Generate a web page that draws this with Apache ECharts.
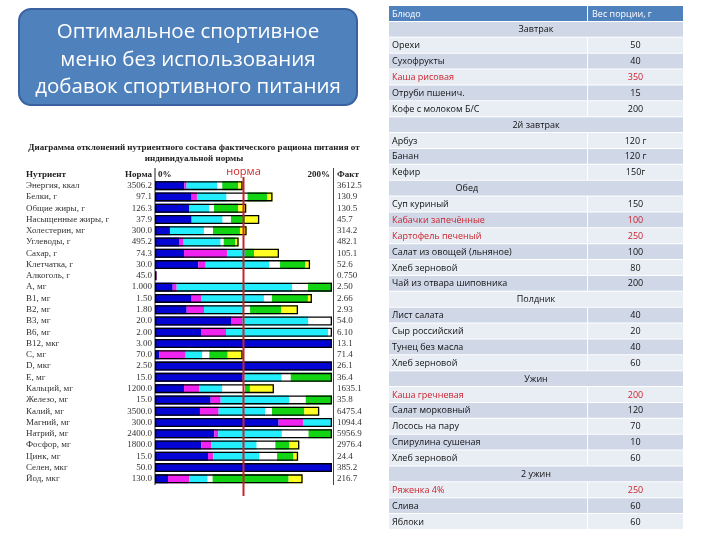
<!DOCTYPE html>
<html><head><meta charset="utf-8">
<script src="https://cdn.jsdelivr.net/npm/echarts@6/dist/echarts.min.js"></script>
<style>html,body{margin:0;padding:0;background:#fff}#c{width:720px;height:540px}</style>
</head><body><div id="c"></div>
<script>
// ---------- Nutrient deviation diagram data ----------
const nutrients = ['Энергия, ккал','Белки, г','Общие жиры, г','Насыщенные жиры, г','Холестерин, мг','Углеводы, г','Сахар, г','Клетчатка, г','Алкоголь, г','A, мг','B1, мг','B2, мг','B3, мг','B6, мг','B12, мкг','C, мг','D, мкг','E, мг','Кальций, мг','Железо, мг','Калий, мг','Магний, мг','Натрий, мг','Фосфор, мг','Цинк, мг','Селен, мкг','Йод, мкг'];
const norms = ['3506.2','97.1','126.3','37.9','300.0','495.2','74.3','30.0','45.0','1.000','1.50','1.80','20.0','2.00','3.00','70.0','2.50','15.0','1200.0','15.0','3500.0','300.0','2400.0','1800.0','15.0','50.0','130.0'];
const facts = ['3612.5','130.9','130.5','45.7','314.2','482.1','105.1','52.6','0.750','2.50','2.66','2.93','54.0','6.10','13.1','71.4','26.1','36.4','1635.1','35.8','6475.4','1094.4','5956.9','2976.4','24.4','385.2','216.7'];
// percent of norm contributed by each meal (bar capped at 200%)
const breakfast  = [33.1,41.4,38.8,41.4,16.9,27.1,32.8,49.0,0,20.0,41.4,35.8,85.9,52.0,200,4.9,200,99.1,32.8,62.9,50.8,139.7,67.0,52.4,59.9,200,14.7];
const breakfast2 = [2.6,6.0,0,0,0,5.3,48.6,8.3,1.7,4.5,11.3,19.6,12.8,28.2,0,29.8,0,1.9,16.9,11.3,21.1,27.5,4.5,10.9,6.0,0,23.7];
const lunch      = [34.7,33.5,22.2,35.0,38.4,41.8,20.3,71.9,0,130.7,70.4,44.1,74.6,115.6,0,18.8,0,42.2,26.4,77.6,52.4,32.8,71.9,51.6,52.0,0,21.1];
const snack      = [5.6,23.7,5.6,9.4,10.2,3.4,0,12.1,0,17.7,9.0,7.9,26.7,4.2,0,7.9,0,10.2,25.6,18.5,7.9,0,30.1,21.1,20.0,0,5.6];
const dinner     = [18.1,22.2,27.5,15.8,30.5,12.8,10.2,28.6,0,27.1,40.7,35.0,0,0,0,20.7,0,46.6,5.6,29.7,36.5,0,26.5,15.4,18.5,0,85.9];
const dinner2    = [4.9,6.0,9.0,16.2,7.5,4.1,28.2,5.3,0,0,4.5,19.2,0,0,0,16.9,0,0,27.1,0,16.9,0,0,11.7,5.3,0,15.8];

// ---------- Menu table data ----------
const tableHeader = ['Блюдо', 'Вес порции, г'];
const mealSections = ['Завтрак', '2й завтрак', 'Обед', 'Полдник', 'Ужин', '2 ужин'];
const dishesBreakfast = ['Орехи','Сухофрукты','Каша рисовая','Отруби пшенич.','Кофе с молоком Б/С'];
const weightsBreakfast = ['50','40','350','15','200'];
const dishesBreakfast2 = ['Арбуз','Банан','Кефир'];
const weightsBreakfast2 = ['120 г','120 г','150г'];
const dishesLunch = ['Суп куриный','Кабачки запечённые','Картофель печеный','Салат из овощей (льняное)','Хлеб зерновой','Чай из отвара шиповника'];
const weightsLunch = ['150','100','250','100','80','200'];
const dishesSnack = ['Лист салата','Сыр российский','Тунец без масла','Хлеб зерновой'];
const weightsSnack = ['40','20','40','60'];
const dishesDinner = ['Каша гречневая','Салат морковный','Лосось на пару','Спирулина сушеная','Хлеб зерновой'];
const weightsDinner = ['200','120','70','10','60'];
const dishesDinner2 = ['Ряженка 4%','Слива','Яблоки'];
const weightsDinner2 = ['250','60','60'];
const redDishes = ['Каша рисовая','Кабачки запечённые','Картофель печеный','Каша гречневая','Ряженка 4%'];

// ---------- build ----------
const mealData = [breakfast, breakfast2, lunch, snack, dinner, dinner2];
const mealColors = ['#0404d4','#f022f0','#22eeff','#ffffff','#12d412','#ffff22'];
const totals = nutrients.map((_, i) => mealData.reduce((s, a) => s + a[i], 0));

const sectionDishes = [dishesBreakfast, dishesBreakfast2, dishesLunch, dishesSnack, dishesDinner, dishesDinner2];
const sectionWeights = [weightsBreakfast, weightsBreakfast2, weightsLunch, weightsSnack, weightsDinner, weightsDinner2];
const tableRows = [{kind: 'header'}];
mealSections.forEach((s, k) => {
  tableRows.push({kind: 'section', text: s, k: k});
  sectionDishes[k].forEach((d, j) => tableRows.push({kind: 'dish', text: d, w: sectionWeights[k][j], red: redDishes.includes(d)}));
});
const colSplit = 0.677;
const sectionAnchor = [0.5, 0.5, 0.265, 0.5, 0.5, 0.5];

const serif = 'Liberation Serif';
const sans = 'Open Sans';
const chart = echarts.init(document.getElementById('c'));

const series = mealData.map((d, k) => ({
  type: 'bar', name: mealSections[k], stack: 'meals', data: d, barWidth: 9, barGap: '-100%',
  xAxisIndex: 0, yAxisIndex: 0, itemStyle: {color: mealColors[k]}, silent: true
}));
series.push({
  type: 'bar', data: totals, barWidth: 9, barGap: '-100%', xAxisIndex: 0, yAxisIndex: 0, z: 5, silent: true,
  itemStyle: {color: 'rgba(0,0,0,0)', borderColor: '#000', borderWidth: 1.3}
});
series.push({
  type: 'custom', coordinateSystem: 'cartesian2d', xAxisIndex: 1, yAxisIndex: 2, silent: true,
  data: tableRows.map((_, i) => [0, i]), encode: {x: 0, y: 1},
  renderItem: (params, api) => {
    const i = params.dataIndex;
    const row = tableRows[i];
    const c0 = api.coord([0, i]);
    const x0 = c0[0], yc = c0[1];
    const x1 = api.coord([1, i])[0];
    const xs = api.coord([colSplit, i])[0];
    const h = api.size([0, 1])[1];
    const top = yc - h / 2;
    const fill = row.kind === 'header' ? '#4f81bd' : (i % 2 === 1 ? '#d0d8e8' : '#e9edf4');
    const font = '9px "Open Sans"';
    const ch = [];
    const txt = (t, x, align, color) => ch.push({type: 'text', style: {text: t, x: x, y: yc, textAlign: align, textVerticalAlign: 'middle', fill: color, font: font}});
    if (row.kind === 'section') {
      ch.push({type: 'rect', shape: {x: x0, y: top, width: x1 - x0, height: h - 1}, style: {fill: fill}});
      txt(row.text, x0 + (x1 - x0) * sectionAnchor[row.k], 'center', '#111');
    } else {
      ch.push({type: 'rect', shape: {x: x0, y: top, width: xs - x0 - 1, height: h - 1}, style: {fill: fill}});
      ch.push({type: 'rect', shape: {x: xs, y: top, width: x1 - xs, height: h - 1}, style: {fill: fill}});
      if (row.kind === 'header') {
        txt(tableHeader[0], x0 + 3, 'left', '#fff');
        txt(tableHeader[1], xs + 4, 'left', '#fff');
      } else {
        const col = row.red ? '#cc1f2a' : '#111';
        txt(row.text, x0 + 3, 'left', col);
        txt(row.w, (xs + x1) / 2, 'center', col);
      }
    }
    return {type: 'group', children: ch};
  }
});

const labelBase = {fontFamily: serif, fontSize: 9, color: '#333'};
chart.setOption({
  animation: false,
  grid: [
    {left: 155, top: 180, width: 177, height: 304.5, containLabel: false},
    {left: 389, top: 6, width: 294, height: 524, containLabel: false}
  ],
  xAxis: [
    {type: 'value', gridIndex: 0, min: 0, max: 200, interval: 200, position: 'top',
     axisLine: {show: false}, axisTick: {show: false}, splitLine: {show: false},
     axisLabel: {show: true, margin: 1, formatter: v => v + '%', fontFamily: serif, fontSize: 9, fontWeight: 'bold', color: '#222',
                 alignMinLabel: 'left', alignMaxLabel: 'right', padding: [0, 2, 0, 3]}},
    {type: 'value', gridIndex: 1, min: 0, max: 1, show: false}
  ],
  yAxis: [
    {type: 'category', gridIndex: 0, data: nutrients, inverse: true,
     axisLine: {show: false}, axisTick: {show: false}, splitLine: {show: false},
     axisLabel: Object.assign({}, labelBase, {interval: 0, margin: 3,
       formatter: (v, i) => '{n|' + v + '}{v|' + norms[i] + '}',
       rich: {n: Object.assign({}, labelBase, {width: 100, align: 'left'}), v: Object.assign({}, labelBase, {width: 26, align: 'right'})}})},
    {type: 'category', gridIndex: 0, data: nutrients, inverse: true, position: 'right',
     axisLine: {show: false}, axisTick: {show: false}, splitLine: {show: false},
     axisLabel: Object.assign({}, labelBase, {interval: 0, margin: 5, formatter: (v, i) => facts[i]})},
    {type: 'category', gridIndex: 1, data: tableRows.map((_, i) => String(i)), inverse: true, show: false}
  ],
  series: series
});

const xl = chart.convertToPixel({xAxisIndex: 0}, 0);
const xr = chart.convertToPixel({xAxisIndex: 0}, 200);
const xn = chart.convertToPixel({xAxisIndex: 0}, 100);
const hdrY = 175;
const boldSerif = {fontFamily: serif, fontSize: 9, fontWeight: 'bold', fill: '#222'};
chart.setOption({
  graphic: [
    {type: 'rect', shape: {x: 19, y: 9, width: 338, height: 96, r: 12}, style: {fill: '#4f81bd', stroke: '#3a62a0', lineWidth: 2}},
    {type: 'text', x: 188, y: 32, style: {text: 'Оптимальное спортивное', fill: '#fff', fontFamily: sans, fontSize: 20.5, textAlign: 'center', textVerticalAlign: 'middle'}},
    {type: 'text', x: 188, y: 60, style: {text: 'меню без использования', fill: '#fff', fontFamily: sans, fontSize: 20.5, textAlign: 'center', textVerticalAlign: 'middle'}},
    {type: 'text', x: 188, y: 87, style: {text: 'добавок спортивного питания', fill: '#fff', fontFamily: sans, fontSize: 20.5, textAlign: 'center', textVerticalAlign: 'middle'}},
    {type: 'text', x: 194, y: 148, style: Object.assign({text: 'Диаграмма отклонений нутриентного состава фактического рациона питания от', textAlign: 'center', textVerticalAlign: 'middle'}, boldSerif)},
    {type: 'text', x: 194, y: 159, style: Object.assign({text: 'индивидуальной нормы', textAlign: 'center', textVerticalAlign: 'middle'}, boldSerif)},
    {type: 'text', x: 26, y: hdrY, style: Object.assign({text: 'Нутриент', textAlign: 'left', textVerticalAlign: 'middle'}, boldSerif)},
    {type: 'text', x: xl - 3, y: hdrY, style: Object.assign({text: 'Норма', textAlign: 'right', textVerticalAlign: 'middle'}, boldSerif)},
    {type: 'text', x: xr + 5, y: hdrY, style: Object.assign({text: 'Факт', textAlign: 'left', textVerticalAlign: 'middle'}, boldSerif)},
    {type: 'line', shape: {x1: xl, y1: 168, x2: xl, y2: 485}, style: {stroke: '#222', lineWidth: 1}},
    {type: 'line', shape: {x1: xr + 1.5, y1: 168, x2: xr + 1.5, y2: 485}, style: {stroke: '#444', lineWidth: 1}},
    {type: 'line', z: 20, shape: {x1: xn, y1: 177, x2: xn, y2: 496}, style: {stroke: '#c4262a', lineWidth: 2}},
    {type: 'text', z: 20, x: xn, y: 172, style: {text: 'норма', fill: '#d02a2a', fontFamily: sans, fontSize: 11, textAlign: 'center', textVerticalAlign: 'middle'}}
  ]
});
</script>
</body></html>
